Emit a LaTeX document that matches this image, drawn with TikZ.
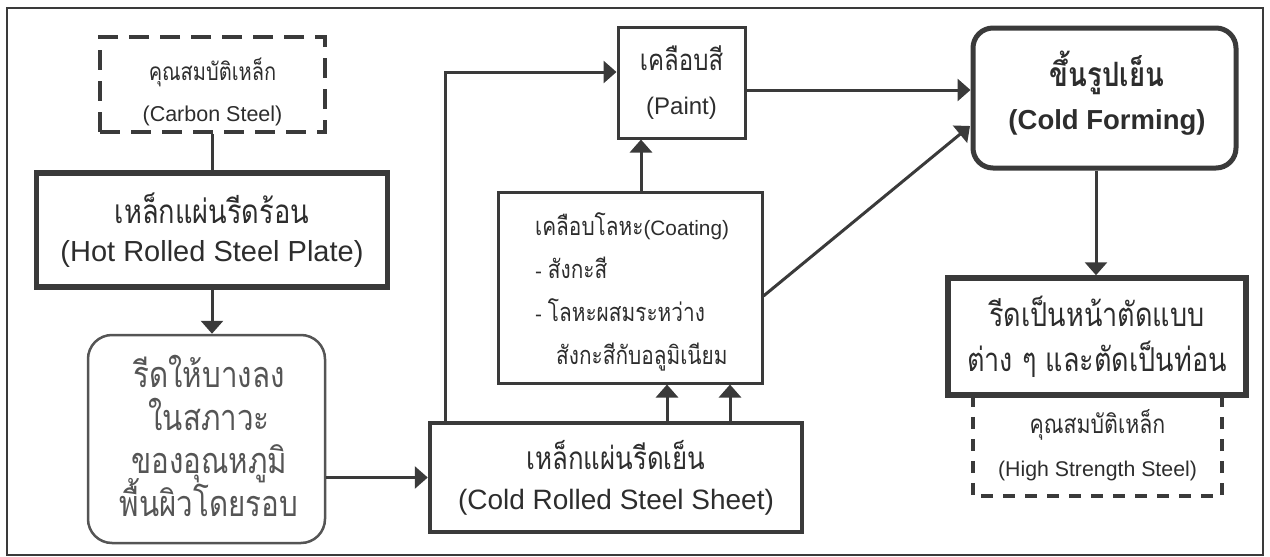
\documentclass[tikz,border=0pt]{standalone}
\usepackage{fontspec}
\setmainfont{Liberation Sans}
\newfontfamily\thaifont[Script=Thai,Scale=1.22,FakeStretch=0.82]{Loma}
\usetikzlibrary{arrows.meta,calc}
\definecolor{lc}{RGB}{58,58,58}
\definecolor{tc}{RGB}{45,45,45}
\definecolor{lc2}{RGB}{85,85,85}
\newcommand{\T}[1]{{\thaifont #1}}
\newcommand{\Ts}[2]{{\fontsize{#1}{#1}\thaifont #2}}
\newcommand{\fs}[2]{\fontsize{#1}{#2}\selectfont\lineskiplimit=-100pt}
\begin{document}
\begin{tikzpicture}[x=1pt,y=-1pt,
  box/.style={draw=lc,rectangle,inner sep=0pt,text=tc,align=center},
  conn/.style={draw=lc,line width=3pt},
  arr/.style={conn,-{Triangle[length=13pt,width=22pt]}},
  dashbox/.style={box,line width=3.5pt,dash pattern=on 20pt off 11pt}]
\useasboundingbox (0,0) rectangle (1270,557);
\draw[lc,line width=2.5pt] (7,8) rectangle (1263,555);

\node[dashbox,minimum width=225pt,minimum height=95pt] (carbon) at (212.5,84.5) {};
\node[text=tc,align=center,inner sep=0pt,font=\fs{21.5}{41}] (carbontxt) at (212.5,91.5)
  {\Ts{20}{คุณสมบัติเหล็ก}\\(Carbon Steel)};
\node[box,line width=5.5pt,minimum width=351pt,minimum height=114pt,font=\fs{29}{38}] (hot) at (212,230)
  {\Ts{27.2}{เหล็กแผ่นรีดร้อน}\\(Hot Rolled Steel Plate)};
\node[box,draw=lc2,line width=2.5pt,rounded corners=24pt,minimum width=237pt,minimum height=208pt] (thin) at (206.5,439) {};
\node[text=lc2,align=center,inner sep=0pt,font=\fs{29.5}{43}] (thintxt) at (209,436)
  {\T{รีดให้บางลง}\\\T{ในสภาวะ}\\\T{ของอุณหภูมิ}\\\T{พื้นผิวโดยรอบ}};
\node[box,line width=4.5pt,minimum width=372pt,minimum height=109pt,font=\fs{28}{40}] (cold) at (616,477.5)
  {\Ts{25.8}{เหล็กแผ่นรีดเย็น}\\(Cold Rolled Steel Sheet)};
\node[box,line width=3pt,minimum width=264pt,minimum height=191pt] (coat) at (630,287.5) {};
\node[anchor=west,text=tc,align=left,inner sep=0pt,font=\fs{20.8}{43}] (coattxt) at (535,292)
  {\T{เคลือบโลหะ}(Coating)\\- \T{สังกะสี}\\- \T{โลหะผสมระหว่าง}\\\hspace*{21pt}\T{สังกะสีกับอลูมิเนียม}};
\node[box,line width=3pt,minimum width=127pt,minimum height=111pt,font=\fs{24}{44}] (paint) at (681.5,82.5)
  {\T{เคลือบสี}\\(Paint)};
\node[box,line width=5pt,rounded corners=20pt,minimum width=263pt,minimum height=140pt] (cform) at (1104.5,98) {};
\node[text=tc,align=center,inner sep=0pt,font=\bfseries\fs{27.5}{43}] (cformtxt) at (1107,93.5)
  {\T{ขึ้นรูปเย็น}\\(Cold Forming)};
\node[box,line width=5.5pt,minimum width=298pt,minimum height=117pt,font=\fs{27}{45}] (roll) at (1097,336.5)
  {\T{รีดเป็นหน้าตัดแบบ}\\\T{ต่าง ๆ และตัดเป็นท่อน}};
\node[box,draw=none,minimum width=249pt,minimum height=101pt,font=\fs{21.3}{43}] (hs) at (1097.5,445.5)
  {\T{คุณสมบัติเหล็ก}\\(High Strength Steel)};
\draw[lc,line width=3.5pt,dash pattern=on 12pt off 10pt] (hs.north west) -- (hs.south west) -- (hs.south east) -- (hs.north east);

\coordinate (xa) at (445,0);
\coordinate (xb) at (667,0);
\coordinate (xc) at (730,0);
\coordinate (xd) at (641,0);
\coordinate (ya) at (0,72);
\coordinate (yb) at (0,90);
\coordinate (ca) at (762,296);
\coordinate (cb) at (970,126);
\coordinate (xe) at (1096,0);

\draw[conn] (carbon.south) -- (carbon.south |- hot.north);
\draw[arr] (hot.south) -- (hot.south |- thin.north);
\draw[arr] (thin.east |- cold.west) -- (cold.west);
\draw[arr] (cold.north -| xb) -- (coat.south -| xb);
\draw[arr] (cold.north -| xc) -- (coat.south -| xc);
\draw[arr] (cold.north -| xa) -- (xa |- ya) -- (paint.west |- ya);
\draw[arr] (coat.north -| xd) -- (paint.south -| xd);
\draw[arr] (paint.east |- yb) -- (cform.west |- yb);
\draw[arr] (coat.east |- ca) -- (cb);
\draw[arr] (cform.south -| xe) -- (roll.north -| xe);
\end{tikzpicture}
\end{document}
